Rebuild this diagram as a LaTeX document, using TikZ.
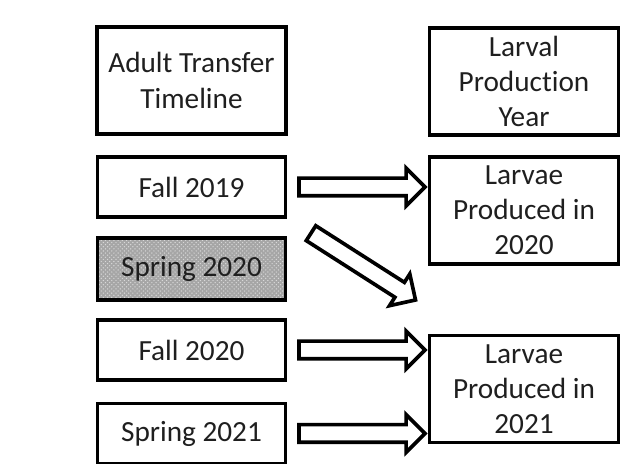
\documentclass[tikz,border=0pt]{standalone}
\usepackage{fontspec}
\setmainfont{Carlito}[Ligatures=CommonOff]
\usetikzlibrary{shapes.arrows,patterns,calc}

\begin{document}
\begin{tikzpicture}[x=0.025cm, y=-0.025cm,
  box/.style={rectangle, draw, line width=2.6pt, align=center, inner sep=2pt, font=\fontsize{20.8}{25}\selectfont, text=black!88},
  tall/.style={box, minimum width=4.72cm, minimum height=2.68cm},
  short/.style={box, minimum width=4.7cm, minimum height=1.5cm},
  grainy/.style={preaction={fill=gray!70}, pattern=crosshatch dots, pattern color=gray!30},
  fat/.style={single arrow, draw, fill=white, line width=2.6pt, inner xsep=0pt, inner ysep=0.175cm, minimum width=0.85cm, single arrow head extend=0.25cm, minimum height=3.15cm},
]
\clip (0,0) rectangle (621,464);

% === headings ===
\node[tall] (hadult) at (191.5, 80.5) {Adult Transfer\\Timeline};
\node[tall] (hlarva) at (524, 81.5) {Larval\\Production\\Year};

% === adult transfers ===
\node[short] (f19) at (191.5, 187) {Fall 2019};
\node[short, grainy, minimum height=1.55cm] (s20) at (191.5, 269) {Spring 2020};
\node[short] (f20) at (191.5, 350) {Fall 2020};
\node[short] (s21) at (191.5, 433.5) {Spring 2021};

% === larvae ===
\node[tall] (l20) at (524, 210.5) {Larvae\\Produced in\\2020};
\node[tall] (l21) at (524, 389) {Larvae\\Produced in\\2021};

% === block arrows ===
\path (f19.east) -- (f19.east -| l20.west) node[midway, fat] (a1) {};
\path ($(f19.south east)+(20,12)$) -- ($(l21.north west)+(-16,-36)$)
  node[midway, sloped, fat, minimum height=3.1cm] (a2) {};
\path (f20.east) -- (f20.east -| l21.west) node[midway, fat] (a3) {};
\path (s21.east) -- (s21.east -| l21.west) node[midway, fat] (a4) {};

\end{tikzpicture}
\end{document}
